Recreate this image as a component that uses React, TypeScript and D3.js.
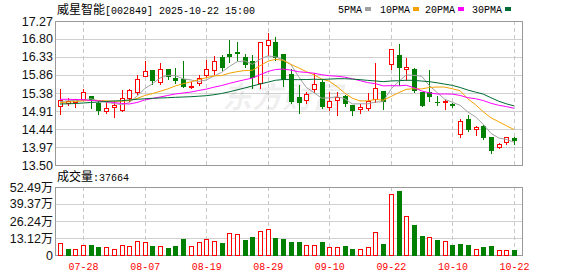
import React from "react";
import * as d3 from "d3";

const dates = [
  "07-23","07-24","07-25","07-28","07-29","07-30","07-31",
  "08-01","08-04","08-05","08-06","08-07","08-08","08-11","08-12","08-13","08-14","08-15","08-18","08-19","08-20","08-21","08-22","08-25","08-26","08-27","08-28","08-29",
  "09-01","09-02","09-03","09-04","09-05","09-08","09-09","09-10","09-11","09-12","09-15","09-16","09-17","09-18","09-19","09-22","09-23","09-24","09-25","09-26","09-29","09-30",
  "10-09","10-10","10-13","10-14","10-15","10-16","10-17","10-20","10-21","10-22",
];
const opens = [
  15.05,15.12,15.16,15.24,15.31,15.13,14.92,15.01,14.94,15.26,
  15.42,15.84,15.99,15.66,16.01,15.79,15.74,15.53,15.64,15.86,
  15.99,16.32,16.41,16.46,16.32,16.22,15.64,16.64,16.71,16.41,
  15.87,15.29,15.20,15.48,15.66,15.03,15.20,15.31,15.07,14.96,
  14.98,15.22,15.44,16.14,16.38,16.02,16.01,15.42,15.40,15.16,
  15.14,15.10,14.30,14.70,14.45,14.52,14.24,13.98,14.11,14.20,
];
const highs = [
  15.48,15.26,15.24,15.48,15.31,15.17,15.18,15.18,15.46,15.48,
  15.86,16.22,15.99,16.17,16.01,16.03,16.22,15.68,15.86,16.25,
  16.35,16.38,16.77,16.73,16.41,16.38,16.72,16.95,16.86,16.41,
  16.01,15.59,15.42,15.92,15.73,15.42,15.42,15.33,15.07,15.09,
  15.38,16.18,15.44,16.54,16.67,16.29,16.03,15.42,15.99,15.30,
  15.20,15.13,14.70,14.81,14.52,14.55,14.24,14.07,14.23,14.23,
];
const lows = [
  14.83,15.07,15.03,15.20,15.00,14.83,14.85,14.76,14.91,15.18,
  15.35,15.84,15.62,15.61,15.74,15.65,15.53,15.51,15.60,15.81,
  15.87,15.99,16.20,16.25,16.07,15.51,15.51,16.38,16.25,15.58,
  15.12,14.87,15.12,15.42,14.98,14.94,14.81,15.05,14.81,14.85,
  14.94,15.16,14.96,16.01,15.59,15.73,15.42,15.05,15.18,15.06,
  14.96,15.01,14.22,14.39,14.29,14.18,13.82,13.95,14.05,14.05,
];
const closes = [
  15.20,15.18,15.22,15.40,15.18,14.92,14.99,15.06,15.25,15.46,
  15.74,15.97,15.71,16.01,15.81,15.70,15.55,15.57,15.79,16.01,
  16.22,16.03,16.34,16.41,16.12,15.77,16.71,16.77,16.29,15.73,
  15.16,15.13,15.35,15.61,15.01,15.18,15.29,15.09,14.92,15.03,
  15.18,15.51,15.16,16.54,16.03,16.06,15.45,15.05,15.29,15.14,
  15.18,15.05,14.65,14.42,14.50,14.21,13.87,14.04,14.23,14.13,
];
// volume in 万 (10k shares)
const volumes = [
  9.0,4.4,4.4,7.5,7.7,5.9,5.9,4.4,7.5,6.9,
  10.8,10.0,6.9,6.9,5.4,6.9,12.3,6.9,9.8,12.0,
  10.8,9.0,16.7,15.9,11.5,13.6,18.2,19.7,12.8,12.0,
  10.0,10.0,7.5,7.5,10.0,5.9,5.9,6.9,4.4,4.4,
  5.9,17.7,8.5,47.4,49.2,30.0,23.1,14.6,13.6,11.5,
  10.8,7.7,8.5,7.7,4.4,5.9,6.9,3.8,3.8,3.7664,
];
// moving-average values for days whose window starts before the chart
const ma5Head = [15.16,15.18,15.19,15.20];
const ma10Head = [15.13,15.15,15.16,15.18,15.19,15.19,15.18,15.17,15.17];
const ma20Head = [15.22,15.22,15.215,15.207,15.19,15.18,15.16,15.136,15.11,15.097,
  15.136,15.202,15.241,15.28,15.32,15.36,15.385,15.41,15.45];
const ma30Head = [15.097,15.102,15.11,15.123,15.136,15.149,15.163,15.176,15.183,15.202,
  15.22,15.233,15.246,15.254,15.262,15.272,15.28,15.288,15.301,15.314,
  15.34,15.372,15.416,15.466,15.516,15.568,15.621,15.668,15.718];

const priceTicks = [17.27,16.80,16.33,15.86,15.38,14.91,14.44,13.97,13.50];
const volTicks = [0,13.12,26.24,39.37,52.49];
const dateTicks = ["07-28","08-07","08-19","08-29","09-10","09-22","10-10","10-22"];
const maNames = ["5PMA","10PMA","20PMA","30PMA"];
const maPeriods = [5,10,20,30];
const maColors = ["#A0A0A0","#F5A200","#FF00FF","#006B33"];
const titleName = "威星智能";
const titleRest = "[002849] 2025-10-22 15:00";
const volLabel = "成交量";
const volValue = ":37664";

const RED = "#FF0000";
const GREEN = "#008000";
const MONO = "'Liberation Mono', 'DejaVu Sans Mono', monospace";
const CJK = "'Noto Sans CJK SC', sans-serif";
const SANS = "'Liberation Sans', Arial, sans-serif";

function maSeries(n: number, head: number[]) {
  return closes.map((_, i) =>
    i < n - 1 ? head[i] : (d3.mean(closes.slice(i - n + 1, i + 1)) as number)
  );
}

const L = 55, R = 522, PT = 21, PB = 165, VT = 187, VB = 255;
const cr = (v: number) => Math.round(v) + 0.5;

function MonoText({ x, y, text, fill = "#000", anchor = "start" }: any) {
  const w = text.length * 6;
  const x0 = anchor === "middle" ? x - w / 2 : anchor === "end" ? x - w : x;
  return (
    <text x={x0} y={y} fontFamily={MONO} fontSize={11} fill={fill}
      textLength={w} lengthAdjust="spacingAndGlyphs">{text}</text>
  );
}

export default function App() {
  const x = d3.scalePoint<string>().domain(dates).range([60, 514]);
  const y = d3.scaleLinear().domain([13.5, 17.27]).range([PB, PT]);
  const yv = d3.scaleLinear().domain([0, 52.49]).range([VB, VT]);
  const mas = maPeriods.map((n, k) => maSeries(n, [ma5Head, ma10Head, ma20Head, ma30Head][k]));
  const line = d3.line<number>().x((_, i) => x(dates[i]) as number).y((d) => y(d));

  const legendX = [338, 380, 425, 472];

  return (
    <svg width={578} height={276} style={{ position: "absolute", left: 0, top: 0, background: "#fff" }}>
      <rect x={0} y={0} width={578} height={276} fill="#fff" />
      {/* title */}
      <text x={57} y={14} fontFamily={CJK} fontSize={12} fill="#000">{titleName}</text>
      <MonoText x={105} y={14} text={titleRest} />
      {/* legend */}
      {maNames.map((n, k) => (
        <g key={n}>
          <MonoText x={legendX[k]} y={13} text={n} />
          <rect x={legendX[k] + n.length * 6 + 3} y={7} width={6} height={4} fill={maColors[k]} />
        </g>
      ))}

      {/* price grid */}
      {priceTicks.map((t) => (
        <line key={t} x1={L} x2={R} y1={cr(y(t))} y2={cr(y(t))} stroke="#D0D0D0" />
      ))}
      {volTicks.map((t) => (
        <line key={t} x1={L} x2={R} y1={cr(yv(t))} y2={cr(yv(t))} stroke="#D0D0D0" />
      ))}
      {dateTicks.map((d) => (
        <g key={d}>
          <line x1={cr(x(d) as number)} x2={cr(x(d) as number)} y1={PT} y2={PB}
            stroke="#C8C8C8" strokeDasharray="4,3" />
          <line x1={cr(x(d) as number)} x2={cr(x(d) as number)} y1={VT} y2={VB}
            stroke="#C8C8C8" strokeDasharray="4,3" />
        </g>
      ))}

      {/* watermark */}
      <text x={222} y={108} fontFamily={CJK} fontSize={30} fontWeight="bold" fontStyle="italic"
        fill="#000" fillOpacity={0.07}>东方财富</text>

      {/* frames */}
      <rect x={L + 0.5} y={PT + 0.5} width={R - L} height={PB - PT} fill="none" stroke="#999" />
      <rect x={L + 0.5} y={VT + 0.5} width={R - L} height={VB - VT} fill="none" stroke="#999" />

      {/* price axis labels */}
      {priceTicks.map((t) => (
        <text key={t} x={53} y={y(t) + 4.5} textAnchor="end" fontFamily={SANS} fontSize={12.5} fill="#111">
          {t.toFixed(2)}
        </text>
      ))}
      {volTicks.map((t) => (
        <text key={t} x={53} y={yv(t) + 4.5} textAnchor="end" fontFamily={SANS} fontSize={12.5} fill="#111">
          {t === 0 ? "0" : t.toFixed(2)}
          {t === 0 ? null : <tspan fontFamily={CJK} fontSize={12}>万</tspan>}
        </text>
      ))}

      {/* candles */}
      {dates.map((d, i) => {
        const cx = Math.round(x(d) as number);
        const up = closes[i] >= opens[i];
        const top = Math.round(y(Math.max(opens[i], closes[i])));
        const bot = Math.round(y(Math.min(opens[i], closes[i])));
        const hi = Math.round(y(highs[i]));
        const lo = Math.round(y(lows[i]));
        const col = up ? RED : GREEN;
        return (
          <g key={d}>
            <line x1={cx + 0.5} x2={cx + 0.5} y1={hi} y2={lo + 1} stroke={col} />
            {up && bot - top >= 2 ? (
              <rect x={cx - 1.5} y={top + 0.5} width={4} height={bot - top} fill="#fff" stroke={col} />
            ) : (
              <rect x={cx - 2} y={top} width={5} height={Math.max(bot - top, 1) + (up ? 1 : 0)} fill={col} />
            )}
          </g>
        );
      })}

      {/* moving averages */}
      {mas.map((m, k) => (
        <path key={k} d={line(m) as string} fill="none" stroke={maColors[k]} strokeWidth={1} />
      ))}

      {/* volume label */}
      <text x={57} y={181} fontFamily={CJK} fontSize={12} fill="#000">{volLabel}</text>
      <MonoText x={93} y={181} text={volValue} />

      {/* volume bars */}
      {dates.map((d, i) => {
        const cx = Math.round(x(d) as number);
        const up = i === 0 ? closes[i] >= opens[i] : closes[i] >= closes[i - 1];
        const top = Math.round(yv(volumes[i]));
        return up ? (
          <rect key={d} x={cx - 1.5} y={top + 0.5} width={4} height={VB - top} fill="#fff" stroke={RED} />
        ) : (
          <rect key={d} x={cx - 2} y={top} width={5} height={VB - top + 1} fill={GREEN} />
        );
      })}

      {/* date labels */}
      {dateTicks.map((d) => (
        <MonoText key={d} x={(x(d) as number) + 0.5} y={270} text={d} fill={RED} anchor="middle" />
      ))}
    </svg>
  );
}
